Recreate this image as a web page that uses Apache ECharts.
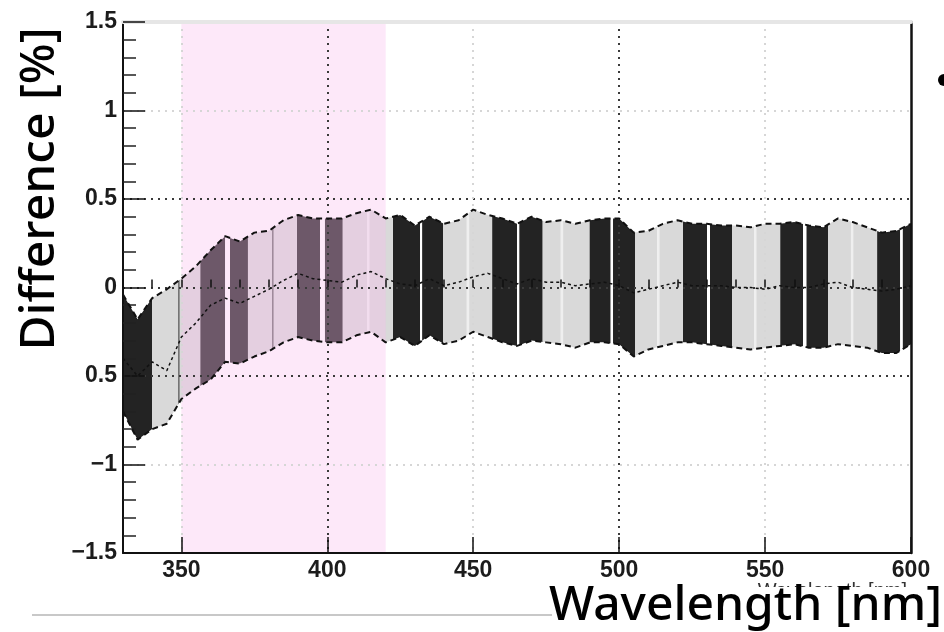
<!DOCTYPE html>
<html>
<head>
<meta charset="utf-8">
<script src="https://cdn.jsdelivr.net/npm/echarts@6/dist/echarts.min.js"></script>
<style>
  html, body { margin: 0; padding: 0; background: #ffffff; }
  #chart { width: 944px; height: 632px; }
</style>
</head>
<body>
<div id="chart"></div>
<script>
// Wavelength grid (nm) and the difference band: upper edge, lower edge, central value (%)
const wavelength = [330, 335, 340, 345, 350, 355, 360, 365, 370, 375, 380, 385, 390, 395, 400,
  405, 410, 415, 420, 425, 430, 435, 440, 445, 450, 455, 460, 465, 470, 475, 480, 485, 490, 495,
  500, 505, 510, 515, 520, 525, 530, 535, 540, 545, 550, 555, 560, 565, 570, 575, 580, 585, 590,
  595, 600];
const upperEdge = [-0.04, -0.18, -0.06, -0.01, 0.05, 0.12, 0.21, 0.29, 0.26, 0.31, 0.32, 0.38, 0.41, 0.39, 0.39,
  0.39, 0.42, 0.44, 0.39, 0.41, 0.35, 0.40, 0.36, 0.38, 0.44, 0.41, 0.39, 0.36, 0.40, 0.37, 0.38, 0.36, 0.38, 0.39,
  0.39, 0.31, 0.32, 0.36, 0.38, 0.36, 0.36, 0.35, 0.35, 0.34, 0.36, 0.36, 0.37, 0.35, 0.34, 0.39, 0.37, 0.34, 0.31,
  0.32, 0.36];
const lowerEdge = [-0.70, -0.86, -0.80, -0.77, -0.63, -0.57, -0.52, -0.42, -0.43, -0.39, -0.36, -0.31, -0.28, -0.30, -0.31,
  -0.31, -0.27, -0.25, -0.31, -0.28, -0.33, -0.27, -0.32, -0.30, -0.25, -0.28, -0.31, -0.33, -0.30, -0.31, -0.32, -0.34, -0.31, -0.31,
  -0.32, -0.39, -0.35, -0.33, -0.31, -0.31, -0.32, -0.33, -0.34, -0.35, -0.34, -0.33, -0.32, -0.34, -0.34, -0.32, -0.33, -0.34, -0.37,
  -0.37, -0.32];
const centralValue = [-0.40, -0.50, -0.42, -0.47, -0.28, -0.20, -0.10, -0.06, -0.09, -0.05, -0.01, 0.04, 0.08, 0.05, 0.04,
  0.03, 0.07, 0.09, 0.05, 0.02, 0.01, 0.05, 0.01, 0.03, 0.06, 0.08, 0.05, 0.02, 0.05, 0.03, 0.03, 0.01, 0.02, 0.03,
  0.01, -0.03, -0.01, 0.01, 0.03, 0.01, 0.01, 0.01, 0.00, 0.00, -0.01, 0.01, 0.00, 0.00, 0.02, 0.03, 0.00, -0.01, -0.02,
  -0.01, 0.01];

// Shaded wavelength blocks of the band: start of each block (nm) and its shade
const stripeStart = [330, 340, 349, 349.4, 356.5, 365, 366.7, 372.8, 381.2, 381.6, 389.6, 397.5, 399.2,
  405.3, 413.6, 414.4, 422.5, 431.8, 432.5, 439.7, 447.8, 448.6, 456.5, 465, 465.8, 473.8, 480, 480.8,
  489.9, 497.1, 497.9, 505.5, 513, 513.8, 521.9, 530.1, 531.1, 538.7, 546.2, 547, 555.2, 563, 564.2,
  571.6, 579.4, 580.2, 588.4, 596.3, 597.2];
const stripeTone = ['dark', 'light', 'edge', 'light', 'dark', 'gap', 'dark', 'light', 'edge', 'light', 'dark', 'gap', 'dark',
  'light', 'sheen', 'light', 'dark', 'gap', 'dark', 'light', 'sheen', 'light', 'dark', 'gap', 'dark', 'light', 'sheen', 'light',
  'dark', 'gap', 'dark', 'light', 'sheen', 'light', 'dark', 'gap', 'dark', 'light', 'sheen', 'light', 'dark', 'gap', 'dark',
  'light', 'sheen', 'light', 'dark', 'gap', 'dark'];

// Highlighted wavelength window (nm)
const highlightRange = [350, 420];

// Tick labels
const xTickValues = [350, 400, 450, 500, 550, 600];
const xTickLabels = ['350', '400', '450', '500', '550', '600'];
const yTickValues = [-1.5, -1, -0.5, 0, 0.5, 1, 1.5];
const yTickLabels = ['\u22121.5', '\u22121', '0.5', '0', '0.5', '1', '1.5'];

const xTitle = 'Wavelength [nm]';
const yTitle = 'Difference [%]';

// ---- styling ----
const toneColor = {
  dark: '#232323',
  light: '#d9d9d9',
  gap: '#ffffff',
  sheen: '#efefef',
  edge: '#111111'
};
const tickFont = { fontFamily: 'Liberation Sans, Arial, sans-serif', fontSize: 23, fontWeight: 'bold', color: '#1c1c1c' };
const titleFont = '500 48px "Noto Sans", "Open Sans", sans-serif';
const gridDark = '#3a3a3a';
const gridFaint = '#d6d6d6';

const xMin = wavelength[0];
const xMax = wavelength[wavelength.length - 1];

const upperData = wavelength.map((w, i) => [w, upperEdge[i]]);
const lowerData = wavelength.map((w, i) => [w, lowerEdge[i]]);
const centralData = wavelength.map((w, i) => [w, centralValue[i]]);
const stripeData = stripeStart.map((s, i) => [s, i + 1 < stripeStart.length ? stripeStart[i + 1] : xMax]);

// Each block paints the full band outline, clipped to its own wavelength span
function renderStripe(params, api) {
  const start = api.value(0);
  const end = api.value(1);
  const outline = upperData.map(p => api.coord(p))
    .concat(lowerData.slice().reverse().map(p => api.coord(p)));
  const xa = api.coord([start, 0])[0];
  const xb = api.coord([end, 0])[0];
  const cs = params.coordSys;
  return {
    type: 'polygon',
    shape: { points: outline },
    style: { fill: toneColor[stripeTone[params.dataIndex]], stroke: null },
    clipPath: { type: 'rect', shape: { x: xa, y: cs.y, width: Math.max(xb - xa, 0.5), height: cs.height } }
  };
}

const chart = echarts.init(document.getElementById('chart'), null, { renderer: 'canvas' });

const option = {
  animation: false,
  backgroundColor: '#ffffff',
  grid: { left: 123, right: 33, top: 22, bottom: 79, containLabel: false },
  xAxis: [
    {
      type: 'value', min: xMin, max: xMax, splitNumber: 5, position: 'bottom', z: 4,
      axisLine: { show: true, onZero: false, lineStyle: { color: '#111', width: 2 } },
      axisTick: { show: true, inside: true, length: 16, lineStyle: { color: '#111', width: 1.5 } },
      axisLabel: {
        show: true, showMinLabel: false, margin: 6, ...tickFont,
        formatter: v => { const k = xTickValues.indexOf(v); return k >= 0 ? xTickLabels[k] : ''; }
      },
      splitLine: {
        show: true,
        lineStyle: { color: ['transparent', gridFaint, gridDark, gridFaint, gridDark, gridFaint, 'transparent'], width: 2, type: [2, 5] }
      }
    },
    {
      type: 'value', min: xMin, max: xMax, interval: 10, position: 'bottom', z: 4,
      axisLine: { show: false },
      axisTick: { show: true, inside: true, length: 8, lineStyle: { color: '#111', width: 1.5 } },
      axisLabel: { show: false },
      splitLine: { show: false }
    },
    {
      type: 'value', min: xMin, max: xMax, position: 'top', z: 4,
      axisLine: { show: true, onZero: false, lineStyle: { color: '#e6e6e6', width: 4 } },
      axisTick: { show: false }, axisLabel: { show: false }, splitLine: { show: false }
    }
  ],
  yAxis: [
    {
      type: 'value', min: -1.5, max: 1.5, interval: 0.5, position: 'left', z: 4,
      axisLine: { show: true, onZero: false, lineStyle: { color: '#111', width: 2 } },
      axisTick: { show: true, inside: true, length: 22, lineStyle: { color: '#111', width: 1.5 } },
      minorTick: { show: true, splitNumber: 5, length: 13, lineStyle: { color: '#222', width: 1.5 } },
      axisLabel: {
        show: true, margin: 6, ...tickFont,
        formatter: v => { const k = yTickValues.findIndex(t => Math.abs(t - v) < 1e-9); return k >= 0 ? yTickLabels[k] : ''; }
      },
      splitLine: {
        show: true,
        lineStyle: { color: ['transparent', gridFaint, gridDark, gridDark, gridDark, gridFaint, 'transparent'], width: 2, type: [2, 5] }
      }
    },
    {
      type: 'value', min: -1.5, max: 1.5, position: 'right', z: 4,
      axisLine: { show: true, onZero: false, lineStyle: { color: '#111', width: 2.5 } },
      axisTick: { show: false }, axisLabel: { show: false }, splitLine: { show: false }
    }
  ],
  series: [
    {
      name: 'band', type: 'custom', data: stripeData, silent: true, z: 2,
      encode: { x: [0, 1] },
      renderItem: renderStripe
    },
    {
      name: 'window', type: 'line', data: [], silent: true, z: 3,
      markArea: {
        silent: true, z: 3,
        itemStyle: { color: 'rgba(249, 189, 237, 0.35)' },
        data: [[{ xAxis: highlightRange[0] }, { xAxis: highlightRange[1] }]]
      }
    },
    {
      name: 'upper', type: 'line', data: upperData, symbol: 'none', silent: true, z: 5,
      lineStyle: { color: '#111', width: 2, type: [6, 4] }
    },
    {
      name: 'lower', type: 'line', data: lowerData, symbol: 'none', silent: true, z: 5,
      lineStyle: { color: '#111', width: 2, type: [6, 4] }
    },
    {
      name: 'central', type: 'line', data: centralData, symbol: 'none', silent: true, z: 5,
      lineStyle: { color: '#111', width: 1.5, type: [3, 3] }
    }
  ],
  graphic: [
    {
      type: 'line', z: 1, silent: true,
      shape: { x1: 32, y1: 615, x2: 940, y2: 615 },
      style: { stroke: '#c8c8c8', lineWidth: 2 }
    },
    {
      type: 'text', z: 2, silent: true, x: 907, y: 591,
      style: { text: xTitle, font: '20px "Liberation Sans", Arial, sans-serif', fill: '#333', align: 'right', verticalAlign: 'middle' }
    },
    {
      type: 'rect', z: 3, silent: true,
      shape: { x: 552, y: 587, width: 392, height: 45 },
      style: { fill: '#ffffff' }
    },
    {
      type: 'text', z: 4, silent: true, x: 942, y: 606,
      style: {
        text: xTitle, font: titleFont, fill: '#000',
        align: 'right', verticalAlign: 'middle'
      }
    },
    {
      type: 'text', z: 4, silent: true, x: 40, y: 189, rotation: Math.PI / 2,
      style: {
        text: yTitle, font: titleFont, fill: '#000',
        align: 'center', verticalAlign: 'middle'
      }
    },
    {
      type: 'circle', z: 4, silent: true,
      shape: { cx: 944, cy: 80, r: 6 },
      style: { fill: '#000' }
    }
  ]
};

chart.setOption(option);
</script>
</body>
</html>
